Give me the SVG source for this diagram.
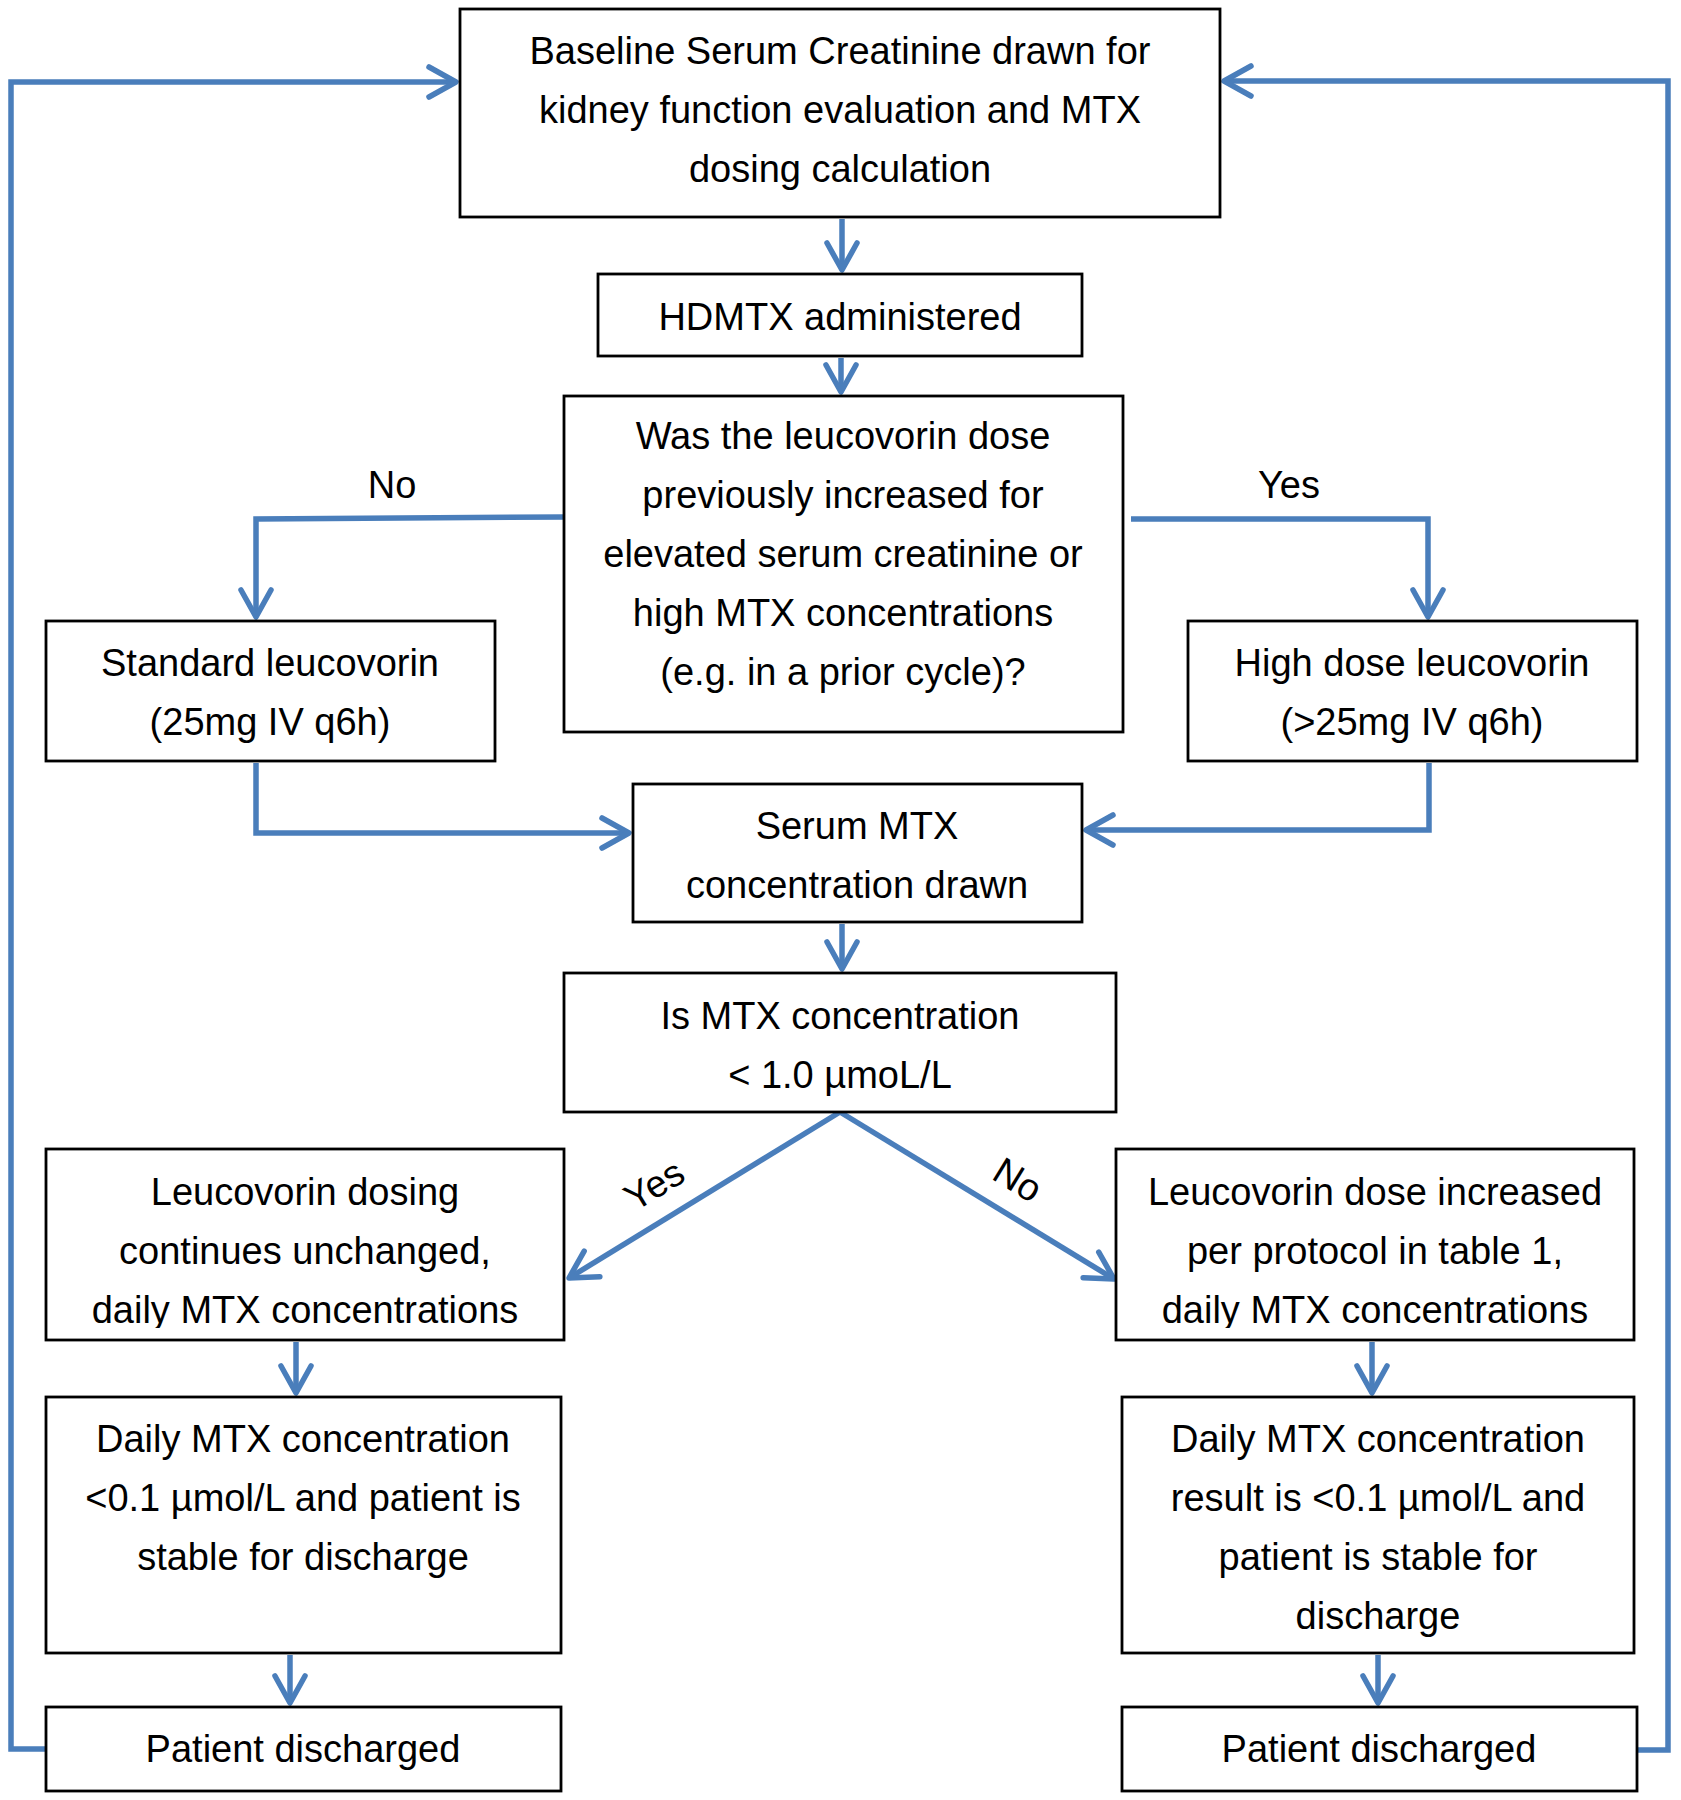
<svg xmlns="http://www.w3.org/2000/svg" width="1681" height="1800" viewBox="0 0 1681 1800">
<style>
.box{fill:#fff;stroke:#000;stroke-width:2.8}
.t{font-family:"Liberation Sans",Arial,sans-serif;font-size:38px;fill:#000;text-anchor:middle}
.c{fill:none;stroke:#4A7EBB;stroke-width:5.5;stroke-linejoin:miter}
</style>
<defs>
<marker id="arr" markerUnits="userSpaceOnUse" markerWidth="60" markerHeight="60" viewBox="-40 -30 60 60" refX="0" refY="0" orient="auto" overflow="visible">
<path d="M-27,-15 L0,0 L-27,15" fill="none" stroke="#4A7EBB" stroke-width="5.5" stroke-linecap="round" stroke-linejoin="round"/>
</marker>
<clipPath id="clipL"><rect x="46" y="1149" width="518" height="179"/></clipPath>
<clipPath id="clipR"><rect x="1116" y="1149" width="518" height="179"/></clipPath>
</defs>
<rect width="1681" height="1800" fill="#fff"/>

<g id="connectors">
<path class="c" d="M842,219 V270" marker-end="url(#arr)"/>
<path class="c" d="M841,358 V392" marker-end="url(#arr)"/>
<path class="c" d="M564,517 L256,519 V617" marker-end="url(#arr)"/>
<path class="c" d="M1131,519 H1428 V617" marker-end="url(#arr)"/>
<path class="c" d="M256,763 V833 H629" marker-end="url(#arr)"/>
<path class="c" d="M1429,763 V830 H1086" marker-end="url(#arr)"/>
<path class="c" d="M842,924 V969" marker-end="url(#arr)"/>
<path class="c" d="M840,1112 L569,1278" marker-end="url(#arr)"/>
<path class="c" d="M840,1112 L1114,1279" marker-end="url(#arr)"/>
<path class="c" d="M296,1342 V1393" marker-end="url(#arr)"/>
<path class="c" d="M1372,1342 V1393" marker-end="url(#arr)"/>
<path class="c" d="M290,1655 V1703" marker-end="url(#arr)"/>
<path class="c" d="M1378,1655 V1703" marker-end="url(#arr)"/>
<path class="c" d="M46,1749 H11 V82 H456" marker-end="url(#arr)"/>
<path class="c" d="M1637,1750 H1668 V81 H1224" marker-end="url(#arr)"/>
<text class="t" x="392" y="498">No</text>
<text class="t" x="1289" y="498">Yes</text>
<text class="t" transform="translate(661,1196) rotate(-31.5)" x="0" y="0">Yes</text>
<text class="t" transform="translate(1011,1191) rotate(31.5)" x="0" y="0">No</text>
</g>

<g id="n1">
<rect class="box" x="460" y="9" width="760" height="208"/>
<text class="t" x="840" y="64">Baseline Serum Creatinine drawn for</text>
<text class="t" x="840" y="123">kidney function evaluation and MTX</text>
<text class="t" x="840" y="182">dosing calculation</text>
</g>

<g id="n2">
<rect class="box" x="598" y="274" width="484" height="82"/>
<text class="t" x="840" y="330">HDMTX administered</text>
</g>

<g id="n3">
<rect class="box" x="564" y="396" width="559" height="336"/>
<text class="t" x="843" y="449">Was the leucovorin dose</text>
<text class="t" x="843" y="508">previously increased for</text>
<text class="t" x="843" y="567">elevated serum creatinine or</text>
<text class="t" x="843" y="626">high MTX concentrations</text>
<text class="t" x="843" y="685">(e.g. in a prior cycle)?</text>
</g>

<g id="n4">
<rect class="box" x="46" y="621" width="449" height="140"/>
<text class="t" x="270" y="676">Standard leucovorin</text>
<text class="t" x="270" y="735">(25mg IV q6h)</text>
</g>

<g id="n5">
<rect class="box" x="1188" y="621" width="449" height="140"/>
<text class="t" x="1412" y="676">High dose leucovorin</text>
<text class="t" x="1412" y="735">(&gt;25mg IV q6h)</text>
</g>

<g id="n6">
<rect class="box" x="633" y="784" width="449" height="138"/>
<text class="t" x="857" y="839">Serum MTX</text>
<text class="t" x="857" y="898">concentration drawn</text>
</g>

<g id="n7">
<rect class="box" x="564" y="973" width="552" height="139"/>
<text class="t" x="840" y="1029">Is MTX concentration</text>
<text class="t" x="840" y="1088">&lt; 1.0 µmoL/L</text>
</g>

<g id="n8">
<rect class="box" x="46" y="1149" width="518" height="191"/>
<g clip-path="url(#clipL)">
<text class="t" x="305" y="1205">Leucovorin dosing</text>
<text class="t" x="305" y="1264">continues unchanged,</text>
<text class="t" x="305" y="1323">daily MTX concentrations</text>
</g>
</g>

<g id="n9">
<rect class="box" x="1116" y="1149" width="518" height="191"/>
<g clip-path="url(#clipR)">
<text class="t" x="1375" y="1205">Leucovorin dose increased</text>
<text class="t" x="1375" y="1264">per protocol in table 1,</text>
<text class="t" x="1375" y="1323">daily MTX concentrations</text>
</g>
</g>

<g id="n10">
<rect class="box" x="46" y="1397" width="515" height="256"/>
<text class="t" x="303" y="1452">Daily MTX concentration</text>
<text class="t" x="303" y="1511">&lt;0.1 µmol/L and patient is</text>
<text class="t" x="303" y="1570">stable for discharge</text>
</g>

<g id="n11">
<rect class="box" x="1122" y="1397" width="512" height="256"/>
<text class="t" x="1378" y="1452">Daily MTX concentration</text>
<text class="t" x="1378" y="1511">result is &lt;0.1 µmol/L and</text>
<text class="t" x="1378" y="1570">patient is stable for</text>
<text class="t" x="1378" y="1629">discharge</text>
</g>

<g id="n12">
<rect class="box" x="46" y="1707" width="515" height="84"/>
<text class="t" x="303" y="1762">Patient discharged</text>
</g>

<g id="n13">
<rect class="box" x="1122" y="1707" width="515" height="84"/>
<text class="t" x="1379" y="1762">Patient discharged</text>
</g>
</svg>
